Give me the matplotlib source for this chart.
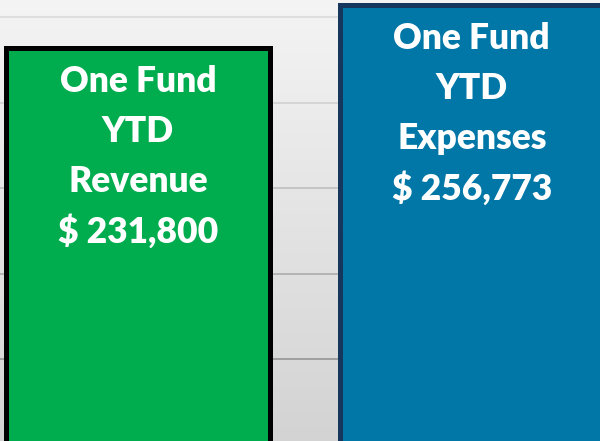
import numpy as np
import matplotlib.pyplot as plt
from matplotlib.colors import LinearSegmentedColormap

categories = ['Revenue', 'Expenses']
values = [231800, 256773]
labels = [['One Fund', 'YTD', 'Revenue', '$ 231,800'],
          ['One Fund', 'YTD', 'Expenses', '$ 256,773']]
fill_colors = ['#00AD4E', '#0077A6']
edge_colors = ['#000000', '#17365D']

fig = plt.figure(figsize=(6, 4.41), dpi=100)
ax = fig.add_axes([0, 0, 1, 1])

# background gradient, light at top, darker at bottom
grad = np.linspace(0, 1, 256).reshape(-1, 1)
cmap = LinearSegmentedColormap.from_list('bg', ['#f4f4f4', '#d3d3d3'])
ax.imshow(grad, cmap=cmap, aspect='auto', extent=[0, 1, 0, 1],
          transform=ax.transAxes, zorder=0)

x = np.arange(len(values))
ax.bar(x, values, width=0.79, color=fill_colors, edgecolor=edge_colors,
       linewidth=3.6, zorder=3)

ax.set_xlim(-0.413, 1.384)
ax.set_ylim(2047, 259942)
ax.set_yticks(np.arange(50000, 260000, 50000))
ax.grid(axis='y', linewidth=1.3, zorder=1)
grid_cols = ['#9a9a9a', '#b0b0b0', '#c2c2c2', '#d2d2d2', '#dcdcdc']
for gl, c in zip(ax.get_ygridlines(), grid_cols):
    gl.set_color(c)
ax.set_axisbelow(True)
ax.tick_params(left=False, bottom=False, labelleft=False, labelbottom=False)
for s in ax.spines.values():
    s.set_visible(False)

for xi, v, lines in zip(x, values, labels):
    for i, t in enumerate(lines):
        ax.annotate(t, xy=(xi, v), xytext=(0, -(33 + 50 * i) * 0.72),
                    textcoords='offset points', ha='center', va='center',
                    color='white', fontsize=25.5, fontweight='heavy',
                    family='Lato', zorder=4)

fig.savefig('out.png', dpi=100)
